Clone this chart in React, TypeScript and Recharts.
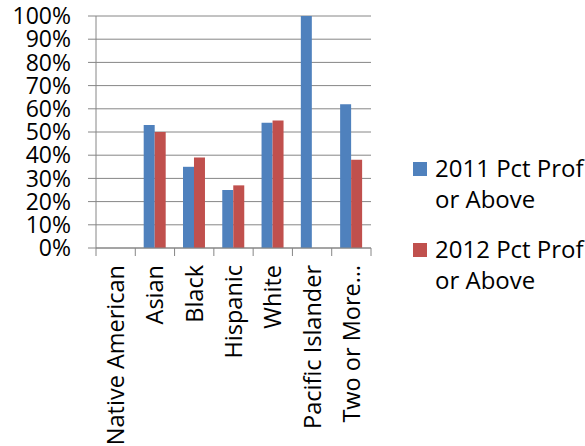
import React from "react";
import { BarChart, Bar, XAxis, YAxis, CartesianGrid, Legend } from "recharts";

// Proficiency rates by student group
const categories = [
  "Native American",
  "Asian",
  "Black",
  "Hispanic",
  "White",
  "Pacific Islander",
  "Two or More…",
];
const pct2011: (number | null)[] = [null, 53, 35, 25, 54, 100, 62];
const pct2012: (number | null)[] = [null, 50, 39, 27, 55, null, 38];
const yTicks = [0, 10, 20, 30, 40, 50, 60, 70, 80, 90, 100];

const SERIES_2011 = "2011 Pct Prof or Above";
const SERIES_2012 = "2012 Pct Prof or Above";

const data = categories.map((name, i) => ({
  name,
  [SERIES_2011]: pct2011[i],
  [SERIES_2012]: pct2012[i],
}));

const FONT = "'Open Sans', sans-serif";
const AXIS_GRAY = "#868686";

const WIDTH = 585;
const HEIGHT = 446;
const MARGIN = { top: 16, right: 214, bottom: 0, left: 0 };
const Y_AXIS_WIDTH = 96;
const X_AXIS_HEIGHT = 198;
const PLOT_WIDTH = WIDTH - MARGIN.left - MARGIN.right - Y_AXIS_WIDTH;
const BAND = PLOT_WIDTH / categories.length;

const X_TICK_SIZE = 8;
const X_TICK_MARGIN = 9;

// Category label rotated upward, plus tick marks on the band boundaries
const CategoryTick = (props: any) => {
  const { x, y, payload, index } = props;
  const axisY = y - X_TICK_SIZE - X_TICK_MARGIN;
  const left = x - BAND / 2;
  const right = x + BAND / 2;
  return (
    <g>
      <line x1={left} x2={left} y1={axisY} y2={axisY + X_TICK_SIZE} stroke={AXIS_GRAY} strokeWidth={1} />
      {index === categories.length - 1 && (
        <line x1={right} x2={right} y1={axisY} y2={axisY + X_TICK_SIZE} stroke={AXIS_GRAY} strokeWidth={1} />
      )}
      <text
        x={x}
        y={y}
        transform={`rotate(-90, ${x}, ${y})`}
        textAnchor="end"
        dy="0.36em"
        fill="#000"
        style={{ fontFamily: FONT, fontSize: 23.5 }}
      >
        {payload.value}
      </text>
    </g>
  );
};

const LegendContent = (props: any) => {
  const { payload } = props;
  return (
    <div style={{ fontFamily: FONT, fontSize: 24, color: "#000", lineHeight: "31px" }}>
      {(payload || []).map((entry: any, i: number) => (
        <div
          key={i}
          style={{ display: "flex", alignItems: "flex-start", marginBottom: i === 0 ? 19 : 0 }}
        >
          <span
            style={{
              display: "inline-block",
              width: 14,
              height: 14,
              marginTop: 10,
              marginRight: 8,
              background: entry.color,
              flex: "0 0 auto",
            }}
          />
          <span style={{ width: 152, whiteSpace: "normal" }}>{entry.value}</span>
        </div>
      ))}
    </div>
  );
};

export default function App() {
  return (
    <div style={{ position: "absolute", left: 0, top: 0, width: WIDTH, height: HEIGHT, background: "#fff" }}>
      <BarChart
        width={WIDTH}
        height={HEIGHT}
        data={data}
        margin={MARGIN}
        barCategoryGap="21.4%"
        barGap={0}
      >
        <CartesianGrid vertical={false} stroke={AXIS_GRAY} strokeWidth={1} />
        <YAxis
          width={Y_AXIS_WIDTH}
          domain={[0, 100]}
          ticks={yTicks}
          interval={0}
          tickFormatter={(v: number) => `${v}%`}
          axisLine={{ stroke: AXIS_GRAY }}
          tickLine={{ stroke: AXIS_GRAY }}
          tickSize={8}
          tickMargin={17}
          tick={{ fill: "#000", fontFamily: FONT, fontSize: 23 }}
        />
        <XAxis
          dataKey="name"
          interval={0}
          axisLine={{ stroke: AXIS_GRAY }}
          tickLine={false}
          tickSize={X_TICK_SIZE}
          tickMargin={X_TICK_MARGIN}
          tick={<CategoryTick />}
          height={X_AXIS_HEIGHT}
        />
        <Legend
          layout="vertical"
          align="center"
          verticalAlign="middle"
          content={<LegendContent />}
          wrapperStyle={{ left: 413, top: 152, right: "auto", bottom: "auto", width: 175 }}
        />
        <Bar dataKey={SERIES_2011} fill="#4F81BD" isAnimationActive={false} />
        <Bar dataKey={SERIES_2012} fill="#C0504D" isAnimationActive={false} />
      </BarChart>
    </div>
  );
}
